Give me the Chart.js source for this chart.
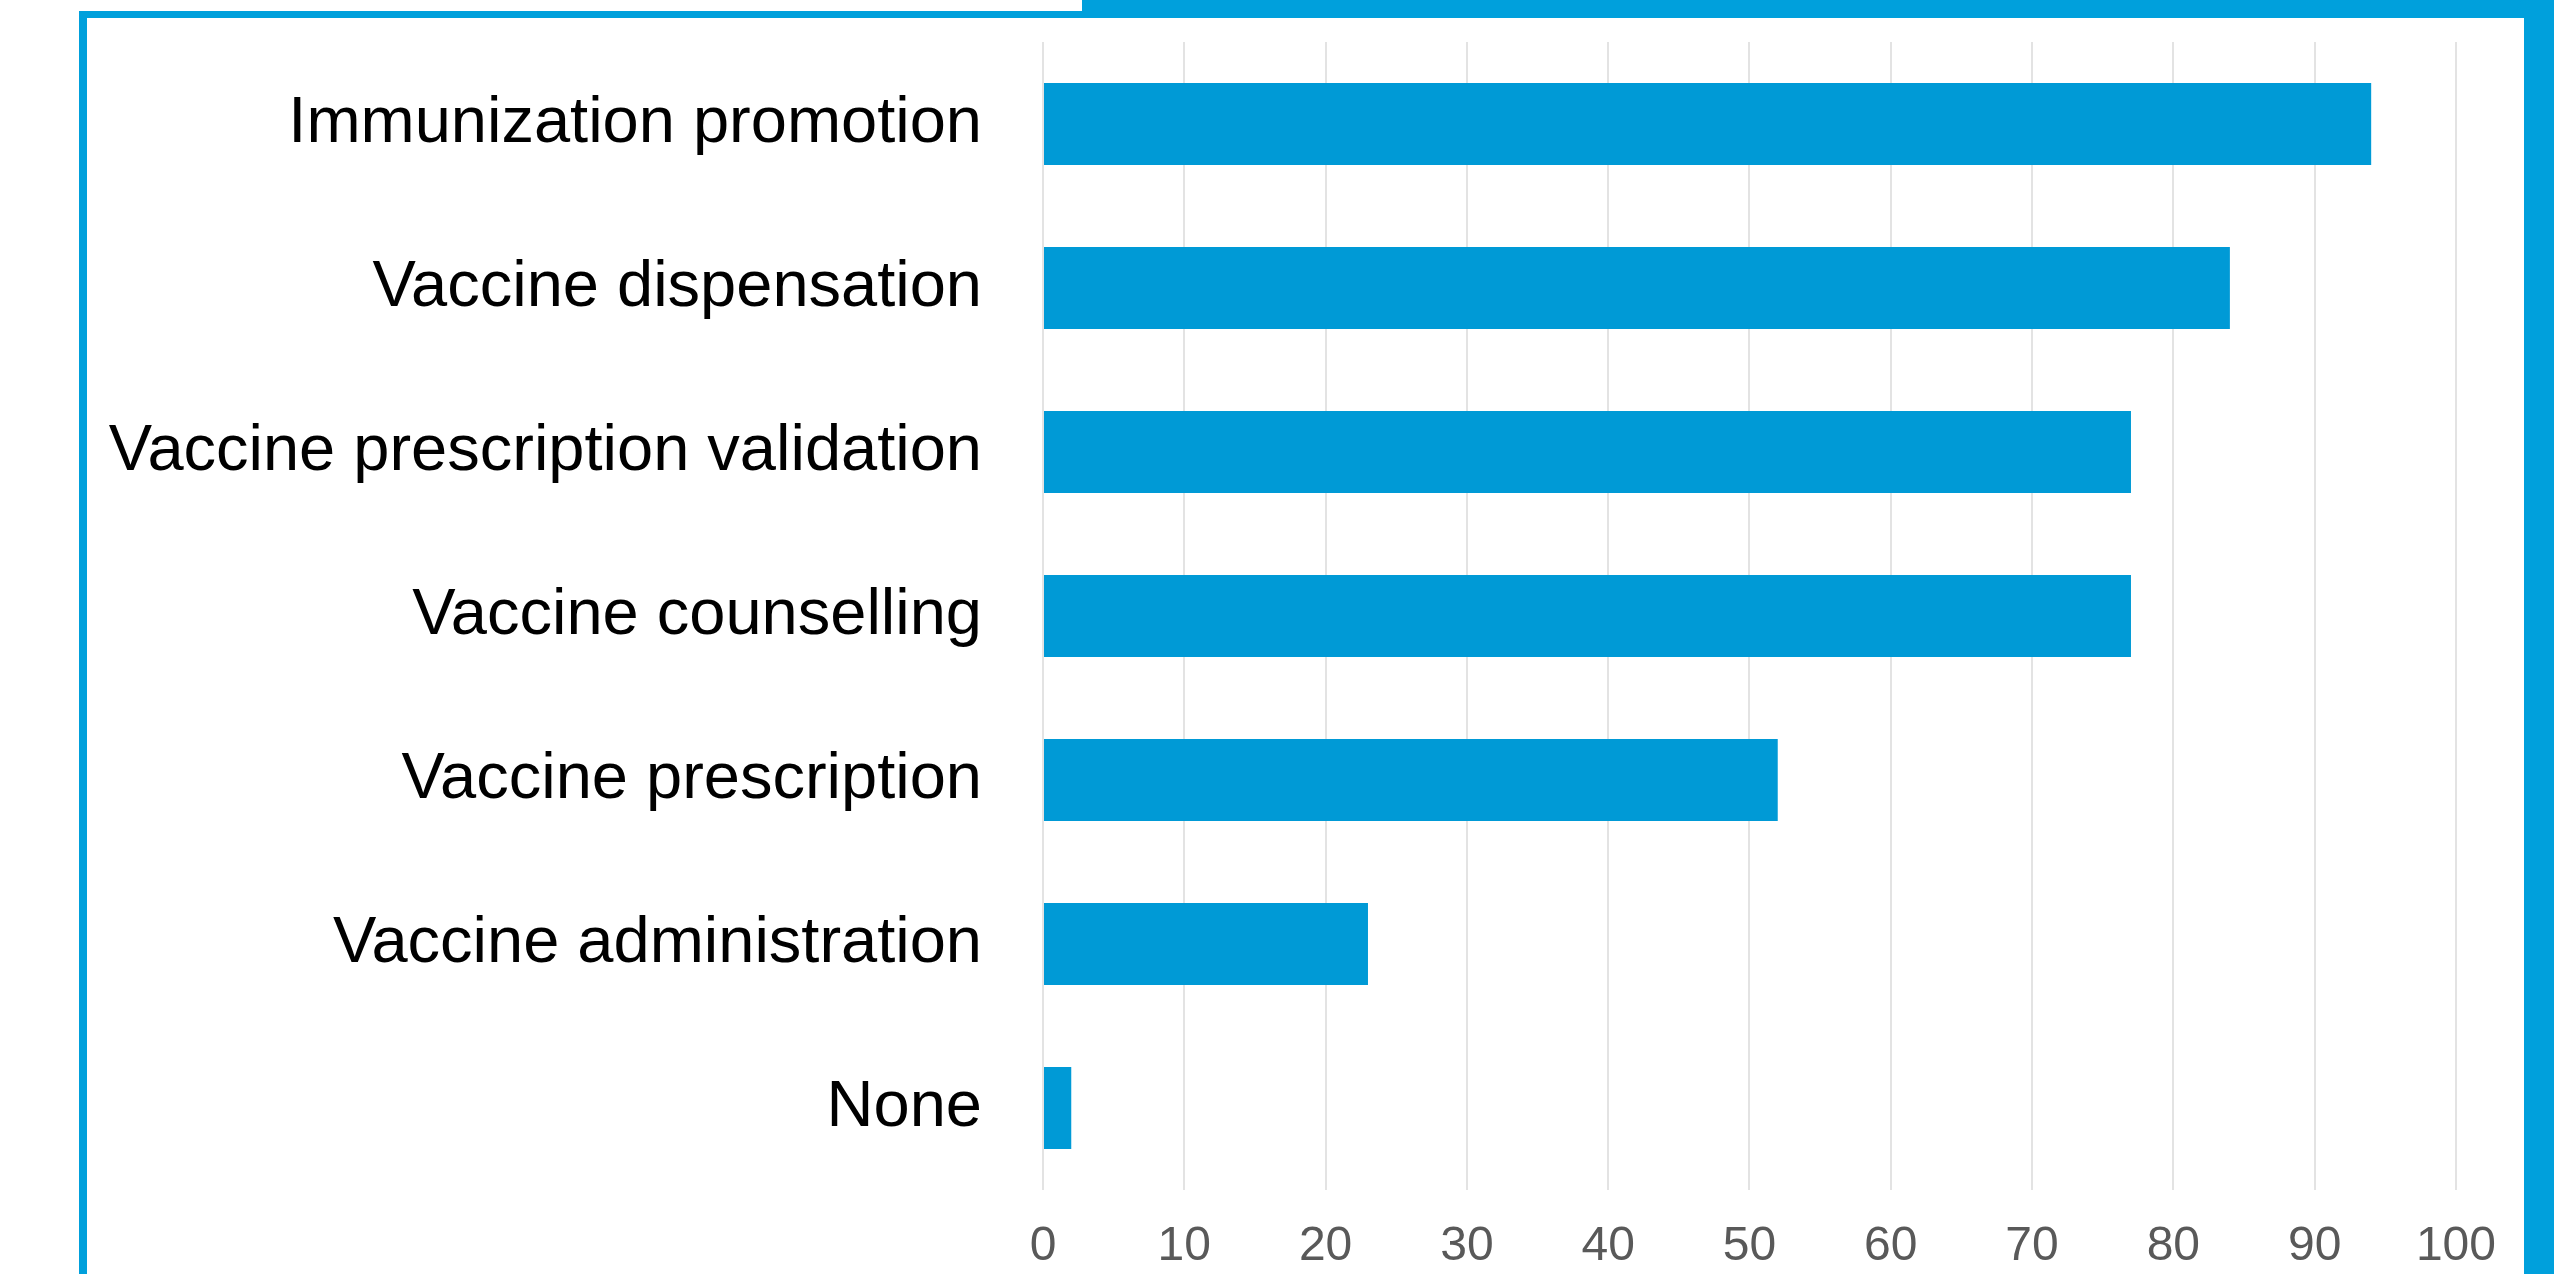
<!DOCTYPE html>
<html>
<head>
<meta charset="utf-8">
<script src="https://cdn.jsdelivr.net/npm/chart.js@4/dist/chart.umd.min.js"></script>
<style>
  html, body { margin: 0; padding: 0; background: #fff; overflow: hidden; }
  body { width: 2554px; height: 1274px; position: relative; }
  .frame { position: absolute; background: #00a0dc; }
  #wrap { position: absolute; left: 87px; top: 18px; width: 2437px; height: 1256px; }
</style>
</head>
<body>

<div class="frame" style="left:1082px; top:0; width:1472px; height:18px;"></div>
<div class="frame" style="left:79px; top:11px; width:2475px; height:7px;"></div>
<div class="frame" style="left:79px; top:11px; width:8px; height:1263px;"></div>
<div class="frame" style="left:2524px; top:0; width:30px; height:1274px;"></div>

<div id="wrap"><canvas id="chart"></canvas></div>

<script>
const categories = [
  "Immunization promotion",
  "Vaccine dispensation",
  "Vaccine prescription validation",
  "Vaccine counselling",
  "Vaccine prescription",
  "Vaccine administration",
  "None"
];

const values = [94, 84, 77, 77, 52, 23, 2];

const axisMin = 0;
const axisMax = 100;
const axisStep = 10;

const barColor = "#009ad6";
const font = "'Liberation Sans', Arial, sans-serif";

new Chart(document.getElementById("chart"), {

  type: "bar",

  data: {
    labels: categories,
    datasets: [{
      data: values,
      backgroundColor: barColor,
      borderWidth: 0,
      barPercentage: 0.5,
      categoryPercentage: 1
    }]
  },

  options: {
    indexAxis: "y",
    responsive: true,
    maintainAspectRatio: false,
    animation: false,
    layout: {
      padding: { left: 0, right: 66, top: 24, bottom: 0 }
    },
    plugins: {
      legend: { display: false },
      tooltip: { enabled: false }
    },
    scales: {
      x: {
        min: axisMin,
        max: axisMax,
        afterFit: scale => { scale.height = 84; },
        grid: {
          color: "#e3e3e3",
          lineWidth: 2,
          drawTicks: false
        },
        border: { display: false },
        ticks: {
          stepSize: axisStep,
          color: "#595959",
          padding: 28,
          font: { family: font, size: 48 }
        }
      },
      y: {
        // fixed width, and no extra top/bottom padding from the big labels
        afterFit: scale => {
          scale.width = 956;
          scale.paddingTop = 0;
          scale.paddingBottom = 0;
        },
        grid: { display: false, drawTicks: false },
        border: { display: false },
        ticks: {
          color: "#000000",
          padding: 61,
          font: { family: font, size: 65 }
        }
      }
    }
  }

});
</script>
</body>
</html>
